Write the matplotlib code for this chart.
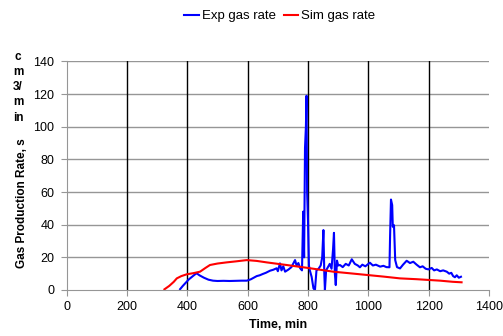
import matplotlib.pyplot as plt

plt.rcParams['font.family'] = ['Liberation Sans', 'DejaVu Sans']

# Exp gas rate (time in min, rate in cm3/min)
exp_time = [376, 385, 395, 405, 415, 425, 431, 440, 455, 470, 485, 500, 520, 540, 560,
            580, 597, 610, 620, 630, 640, 650, 660, 674, 685, 696, 700, 707, 712, 718,
            724, 735, 745, 757, 762, 768, 774, 780, 784, 787, 790, 793, 795, 797, 800,
            803, 806, 812, 818, 823, 828, 835, 842, 847, 851, 854, 856, 860, 866, 872,
            878, 883, 886, 889, 892, 896, 900, 906, 915, 925, 935, 945, 955, 965, 972,
            980, 990, 1005, 1015, 1025, 1039, 1050, 1060, 1070, 1072, 1075, 1079, 1081,
            1085, 1089, 1095, 1105, 1115, 1127, 1138, 1149, 1160, 1171, 1180, 1190, 1199,
            1210, 1218, 1227, 1238, 1248, 1260, 1268, 1275, 1281, 1287, 1293, 1300, 1307]
exp_rate = [0.5, 2.5, 4.5, 6.5, 8.0, 9.5, 10.2, 9.0, 7.5, 6.3, 5.7, 5.5, 5.6, 5.5, 5.6,
            5.7, 5.7, 6.5, 7.5, 8.5, 9.0, 9.8, 10.5, 11.8, 12.4, 13.3, 11.5, 16.3, 12.0, 14.5,
            11.2, 12.5, 14.0, 18.3, 15.0, 16.5, 13.3, 12.0, 48.0, 20.0, 87.0, 100.0, 119.0, 60.0, 42.0,
            15.0, 12.0, 8.0, 1.0, 0.0, 12.0, 13.0, 15.0, 20.0, 36.7, 10.0, 0.0, 12.0, 14.0, 16.0,
            13.0, 25.0, 35.0, 10.0, 3.0, 18.0, 15.0, 15.3, 14.0, 16.0, 15.0, 18.8, 16.0, 15.0, 13.9,
            15.5, 14.5, 16.7, 15.0, 15.5, 14.3, 14.8, 14.0, 13.9, 32.6, 55.4, 52.0, 38.7,
            39.7, 18.3, 14.0, 13.2, 15.5, 17.9, 16.5, 17.3, 15.5, 13.9, 14.5, 13.0, 12.6,
            13.5, 12.0, 12.6, 11.5, 12.0, 11.2, 10.0, 10.5, 8.5, 7.8, 9.0, 7.5, 8.1]

# Sim gas rate
sim_time = [324, 340, 355, 365, 380, 398, 420, 442, 460, 475, 500, 530, 560, 597, 630,
            663, 700, 729, 760, 796, 840, 884, 940, 995, 1050, 1105, 1160, 1238, 1280, 1309]
sim_rate = [0.4, 2.5, 5.0, 7.1, 8.5, 9.6, 10.3, 11.2, 13.5, 15.3, 16.2, 16.9, 17.5, 18.3, 17.8,
            16.9, 16.0, 15.3, 14.5, 13.6, 12.4, 11.2, 10.2, 9.2, 8.2, 7.1, 6.6, 5.7, 5.0, 4.7]

x_ticks = [0, 200, 400, 600, 800, 1000, 1200, 1400]
y_ticks = [0, 20, 40, 60, 80, 100, 120, 140]

fig = plt.figure(figsize=(5.03, 3.36), dpi=100)
ax = fig.add_axes([0.1326, 0.137, 0.8396, 0.680])

ax.plot(exp_time, exp_rate, color='#0000ff', lw=1.5, label='Exp gas rate')
ax.plot(sim_time, sim_rate, color='#ff0000', lw=1.5, label='Sim gas rate')

ax.set_xlim(0, 1400)
ax.set_ylim(0, 140)
ax.set_xticks(x_ticks)
ax.set_yticks(y_ticks)

# horizontal grid gray, vertical grid black
for yv in y_ticks[1:]:
    ax.axhline(yv, color='#969696', lw=1.0, zorder=0)
for xv in x_ticks[1:-1]:
    ax.axvline(xv, color='black', lw=1.0, zorder=0)

for s in ['top', 'right']:
    ax.spines[s].set_visible(False)
for s in ['left', 'bottom']:
    ax.spines[s].set_color('#969696')
ax.tick_params(axis='both', colors='#969696', labelcolor='black', labelsize=9,
               direction='out', length=4)
ax.tick_params(axis='x', pad=4)
ax.tick_params(axis='y', pad=5)

ax.set_xlabel('Time, min', fontsize=9, fontweight='bold', labelpad=4)

# y label wrapped the Excel way
fig.text(0.043, 0.394, 'Gas Production Rate, s', rotation=90, fontsize=8.5,
         fontweight='bold', ha='center', va='center')
fig.text(0.036, 0.741, 'c\nm\n3/\nm\nin', fontsize=8.5, fontweight='bold',
         ha='center', va='center', linespacing=1.36)

fig.legend(loc='center', bbox_to_anchor=(0.556, 0.952), ncol=2, frameon=False,
           fontsize=9.5, handlelength=1.1, handletextpad=0.2, columnspacing=0.6)

fig.savefig('out.png', dpi=100)
